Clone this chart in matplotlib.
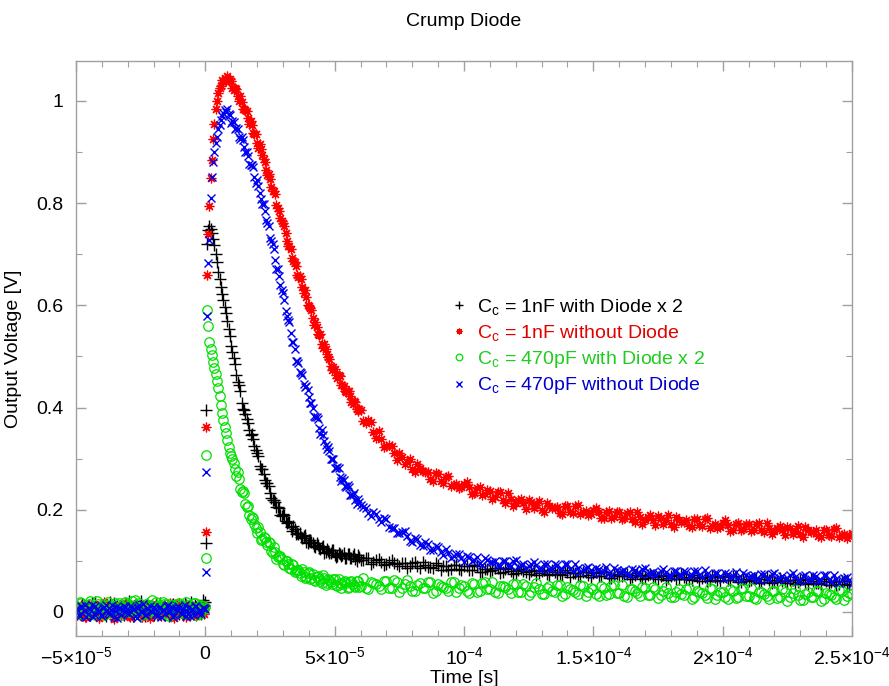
import numpy as np
import matplotlib
matplotlib.use("Agg")
import matplotlib.pyplot as plt
from matplotlib.lines import Line2D
from matplotlib.ticker import FixedLocator, FixedFormatter, MultipleLocator

plt.rcParams['font.family'] = ['Liberation Sans', 'DejaVu Sans']
plt.rcParams['mathtext.fontset'] = 'custom'
plt.rcParams['mathtext.rm'] = 'Liberation Sans'
plt.rcParams['mathtext.it'] = 'Liberation Sans:italic'
plt.rcParams['mathtext.bf'] = 'Liberation Sans:bold'

# ---- sample times (microseconds) ----
t_pre = np.arange(-50.0, 0.0, 1.0)
t_pre2 = np.arange(-49.5, 0.0, 1.0)
t_rise = np.array([0.0, 0.2, 0.4, 0.7, 1.0, 1.5, 2.0, 2.5, 3.0, 3.5, 4.0,
                   4.5, 5.0, 5.5, 6.0, 6.5, 7.0, 7.5, 8.0, 8.5, 9.0, 9.5])
t_mid = np.arange(10.0, 60.0, 1.0)
t_mid2 = np.arange(10.5, 60.0, 1.0)
t_tail = np.arange(60.0, 251.0, 2.0)
t_tail2 = np.arange(61.0, 250.0, 2.0)

# ---- Cc = 1nF with diode (x2) ----
black_pre = [0.010, 0.002, -0.005, 0.014, 0.006, -0.003, 0.018, 0.001, 0.009, -0.007,
             0.004, 0.012, -0.001, 0.020, 0.003, -0.006, 0.011, 0.007, -0.002, 0.015,
             0.000, 0.009, -0.008, 0.013, 0.005, 0.022, -0.004, 0.008, 0.002, 0.011,
             -0.005, 0.016, 0.004, -0.001, 0.010, 0.006, -0.007, 0.014, 0.003, 0.009,
             -0.003, 0.012, 0.018, 0.001, -0.006, 0.008, 0.013, -0.002, 0.006, 0.024]
black_pre2 = [0.006, -0.004, 0.015, 0.002, 0.011, -0.006, 0.008, 0.019, -0.002, 0.005,
              0.013, -0.008, 0.009, 0.003, 0.017, -0.001, 0.007, 0.012, -0.005, 0.010,
              0.021, 0.001, -0.004, 0.014, 0.006, 0.009, -0.007, 0.016, 0.002, 0.011,
              0.004, -0.003, 0.018, 0.008, -0.006, 0.012, 0.001, 0.015, -0.002, 0.007,
              0.010, -0.005, 0.013, 0.003, 0.020, -0.001, 0.009, 0.005, -0.004, 0.014]
black_rise = [0.020, 0.135, 0.395, 0.720, 0.748, 0.755, 0.750, 0.742, 0.730, 0.718,
              0.700, 0.684, 0.666, 0.652, 0.636, 0.622, 0.610, 0.596, 0.585, 0.570,
              0.553, 0.540]
black_mid = [0.520, 0.496, 0.464, 0.444, 0.408, 0.396, 0.377, 0.356, 0.348, 0.325,
             0.311, 0.286, 0.279, 0.258, 0.253, 0.232, 0.219, 0.215, 0.205, 0.190,
             0.191, 0.178, 0.177, 0.166, 0.168, 0.152, 0.153, 0.146, 0.149, 0.136,
             0.141, 0.136, 0.129, 0.135, 0.126, 0.127, 0.116, 0.123, 0.115, 0.122,
             0.112, 0.109, 0.114, 0.112, 0.105, 0.113, 0.106, 0.110, 0.104, 0.111]
black_mid2 = [0.509, 0.485, 0.450, 0.433, 0.398, 0.388, 0.369, 0.347, 0.338, 0.316,
              0.306, 0.280, 0.270, 0.252, 0.247, 0.223, 0.220, 0.206, 0.204, 0.187,
              0.189, 0.175, 0.177, 0.159, 0.162, 0.154, 0.154, 0.144, 0.150, 0.135,
              0.140, 0.135, 0.127, 0.132, 0.124, 0.129, 0.117, 0.120, 0.115, 0.121,
              0.108, 0.115, 0.109, 0.115, 0.106, 0.114, 0.106, 0.113, 0.100, 0.107]
black_tail = [0.102, 0.106, 0.094, 0.101, 0.098, 0.093, 0.101, 0.094, 0.096, 0.087,
              0.095, 0.089, 0.097, 0.088, 0.086, 0.091, 0.090, 0.083, 0.091, 0.085,
              0.089, 0.083, 0.091, 0.079, 0.085, 0.081, 0.087, 0.076, 0.084, 0.081,
              0.077, 0.085, 0.079, 0.081, 0.073, 0.081, 0.075, 0.083, 0.075, 0.072,
              0.078, 0.076, 0.070, 0.078, 0.072, 0.076, 0.071, 0.079, 0.067, 0.073,
              0.070, 0.075, 0.065, 0.073, 0.070, 0.066, 0.075, 0.068, 0.071, 0.063,
              0.071, 0.065, 0.074, 0.065, 0.063, 0.069, 0.067, 0.061, 0.070, 0.063,
              0.068, 0.063, 0.070, 0.059, 0.065, 0.061, 0.067, 0.057, 0.064, 0.062,
              0.058, 0.066, 0.060, 0.063, 0.054, 0.063, 0.057, 0.065, 0.057, 0.055,
              0.060, 0.059, 0.053, 0.061, 0.055, 0.060]
black_tail2 = [0.102, 0.105, 0.097, 0.104, 0.091, 0.098, 0.095, 0.089, 0.096, 0.090,
               0.097, 0.087, 0.091, 0.088, 0.095, 0.083, 0.090, 0.084, 0.091, 0.082,
               0.090, 0.083, 0.090, 0.078, 0.085, 0.082, 0.086, 0.079, 0.087, 0.075,
               0.082, 0.080, 0.074, 0.082, 0.076, 0.083, 0.073, 0.078, 0.074, 0.082,
               0.069, 0.077, 0.071, 0.078, 0.069, 0.078, 0.071, 0.078, 0.066, 0.074,
               0.070, 0.075, 0.068, 0.076, 0.064, 0.072, 0.069, 0.064, 0.072, 0.066,
               0.073, 0.064, 0.068, 0.065, 0.073, 0.060, 0.068, 0.063, 0.069, 0.061,
               0.070, 0.062, 0.070, 0.058, 0.065, 0.062, 0.067, 0.059, 0.068, 0.056,
               0.063, 0.061, 0.056, 0.063, 0.058, 0.065, 0.055, 0.060, 0.057, 0.064,
               0.052, 0.060, 0.054, 0.061, 0.053]

# ---- Cc = 1nF without diode ----
red_pre = [0.008, -0.004, 0.013, 0.002, -0.009, 0.016, 0.005, -0.002, 0.011, -0.012,
           0.007, 0.019, -0.003, 0.004, 0.010, -0.007, 0.001, 0.014, -0.005, 0.008,
           0.003, -0.010, 0.012, 0.006, -0.001, 0.009, -0.006, 0.015, 0.002, -0.004,
           0.011, 0.000, 0.007, -0.008, 0.013, 0.004, -0.002, 0.010, -0.011, 0.006,
           0.017, -0.003, 0.005, 0.009, -0.006, 0.012, 0.001, -0.004, 0.008, 0.003]
red_pre2 = [-0.006, 0.010, 0.003, -0.010, 0.014, 0.001, 0.007, -0.004, 0.012, -0.008,
            0.005, 0.016, -0.002, 0.009, -0.013, 0.004, 0.011, -0.005, 0.002, 0.018,
            -0.007, 0.008, 0.013, -0.001, 0.006, -0.009, 0.010, 0.003, -0.012, 0.015,
            0.000, 0.009, -0.006, 0.012, 0.004, -0.003, 0.017, -0.008, 0.006, 0.011,
            -0.002, 0.008, -0.010, 0.014, 0.002, 0.005, -0.007, 0.012, 0.001, -0.004]
red_rise = [0.012, 0.157, 0.362, 0.660, 0.740, 0.795, 0.850, 0.885, 0.925, 0.955,
            0.985, 1.000, 1.015, 1.025, 1.030, 1.040, 1.036, 1.045, 1.041, 1.048,
            1.039, 1.043]
red_mid = [1.039, 1.022, 1.023, 1.000, 0.997, 0.984, 0.980, 0.954, 0.952, 0.936,
           0.918, 0.916, 0.895, 0.881, 0.855, 0.848, 0.823, 0.818, 0.790, 0.770,
           0.761, 0.742, 0.717, 0.711, 0.686, 0.676, 0.655, 0.651, 0.624, 0.616,
           0.598, 0.590, 0.562, 0.558, 0.542, 0.525, 0.524, 0.505, 0.495, 0.474,
           0.475, 0.458, 0.462, 0.444, 0.433, 0.432, 0.422, 0.407, 0.410, 0.394]
red_mid2 = [1.025, 1.026, 1.009, 1.009, 0.984, 0.983, 0.967, 0.960, 0.938, 0.936,
            0.908, 0.905, 0.887, 0.864, 0.857, 0.832, 0.824, 0.796, 0.784, 0.764,
            0.756, 0.725, 0.717, 0.693, 0.685, 0.660, 0.657, 0.635, 0.630, 0.600,
            0.595, 0.576, 0.567, 0.544, 0.543, 0.516, 0.514, 0.499, 0.481, 0.480,
            0.463, 0.464, 0.445, 0.443, 0.431, 0.432, 0.410, 0.412, 0.397, 0.398]
red_tail = [0.395, 0.370, 0.371, 0.341, 0.339, 0.324, 0.324, 0.297, 0.304, 0.293,
            0.280, 0.289, 0.275, 0.274, 0.257, 0.269, 0.253, 0.266, 0.249, 0.242,
            0.250, 0.244, 0.232, 0.244, 0.230, 0.237, 0.224, 0.235, 0.214, 0.221,
            0.214, 0.222, 0.202, 0.215, 0.209, 0.200, 0.214, 0.203, 0.206, 0.192,
            0.207, 0.194, 0.210, 0.195, 0.189, 0.199, 0.195, 0.184, 0.198, 0.186,
            0.195, 0.183, 0.196, 0.177, 0.185, 0.180, 0.189, 0.170, 0.184, 0.179,
            0.172, 0.186, 0.176, 0.179, 0.166, 0.181, 0.168, 0.184, 0.169, 0.164,
            0.174, 0.170, 0.161, 0.175, 0.163, 0.172, 0.161, 0.174, 0.156, 0.164,
            0.159, 0.168, 0.150, 0.164, 0.159, 0.152, 0.166, 0.156, 0.160, 0.146,
            0.161, 0.148, 0.165, 0.150, 0.145, 0.155]
red_tail2 = [0.374, 0.375, 0.352, 0.354, 0.322, 0.326, 0.311, 0.311, 0.290, 0.300,
             0.273, 0.281, 0.273, 0.261, 0.271, 0.257, 0.265, 0.246, 0.251, 0.244,
             0.254, 0.231, 0.242, 0.229, 0.239, 0.222, 0.234, 0.220, 0.232, 0.208,
             0.220, 0.213, 0.219, 0.204, 0.218, 0.195, 0.208, 0.203, 0.194, 0.207,
             0.196, 0.207, 0.191, 0.198, 0.192, 0.204, 0.183, 0.195, 0.184, 0.196,
             0.181, 0.194, 0.182, 0.195, 0.173, 0.186, 0.180, 0.187, 0.173, 0.189,
             0.167, 0.180, 0.176, 0.168, 0.181, 0.170, 0.181, 0.165, 0.172, 0.167,
             0.180, 0.159, 0.172, 0.161, 0.173, 0.158, 0.172, 0.161, 0.174, 0.152,
             0.165, 0.160, 0.167, 0.153, 0.169, 0.147, 0.160, 0.157, 0.148, 0.161,
             0.150, 0.162, 0.146, 0.153, 0.148]

# ---- Cc = 470pF with diode (x2) ----
green_pre = [0.012, 0.003, 0.018, -0.004, 0.009, 0.015, -0.002, 0.006, 0.021, 0.000,
             0.011, -0.006, 0.014, 0.007, 0.002, 0.017, -0.003, 0.010, 0.005, 0.019,
             -0.001, 0.013, 0.008, 0.024, 0.004, -0.005, 0.012, 0.016, 0.001, 0.009,
             0.006, 0.020, -0.002, 0.011, 0.015, 0.003, -0.007, 0.013, 0.008, 0.002,
             0.017, 0.005, -0.003, 0.014, 0.010, 0.001, 0.018, 0.007, -0.004, 0.012]
green_pre2 = [0.008, 0.019, -0.003, 0.013, 0.004, 0.022, 0.010, -0.005, 0.016, 0.007,
              0.001, 0.014, 0.020, -0.002, 0.011, 0.005, 0.017, -0.006, 0.009, 0.015,
              0.003, 0.021, 0.012, -0.001, 0.018, 0.006, 0.010, -0.004, 0.014, 0.023,
              0.002, 0.012, 0.008, 0.019, -0.003, 0.015, 0.009, 0.004, 0.016, -0.002,
              0.013, 0.007, 0.020, 0.001, 0.011, 0.017, -0.005, 0.010, 0.014, 0.006]
green_rise = [0.010, 0.106, 0.307, 0.590, 0.560, 0.528, 0.515, 0.502, 0.490, 0.478,
              0.466, 0.452, 0.438, 0.422, 0.405, 0.390, 0.376, 0.362, 0.350, 0.336,
              0.323, 0.312]
green_mid = [0.305, 0.291, 0.266, 0.260, 0.235, 0.232, 0.206, 0.189, 0.185, 0.172,
             0.155, 0.157, 0.142, 0.144, 0.131, 0.135, 0.116, 0.117, 0.108, 0.110,
             0.093, 0.100, 0.093, 0.084, 0.091, 0.081, 0.082, 0.070, 0.079, 0.069,
             0.079, 0.067, 0.062, 0.068, 0.064, 0.056, 0.066, 0.057, 0.063, 0.055,
             0.064, 0.051, 0.057, 0.054, 0.061, 0.047, 0.058, 0.055, 0.049, 0.060]
green_mid2 = [0.299, 0.279, 0.273, 0.240, 0.236, 0.211, 0.207, 0.182, 0.184, 0.164,
              0.167, 0.141, 0.147, 0.136, 0.137, 0.120, 0.127, 0.103, 0.110, 0.103,
              0.092, 0.100, 0.087, 0.094, 0.078, 0.082, 0.077, 0.084, 0.066, 0.076,
              0.065, 0.074, 0.060, 0.071, 0.061, 0.072, 0.053, 0.064, 0.058, 0.064,
              0.052, 0.065, 0.046, 0.058, 0.056, 0.048, 0.060, 0.051, 0.061, 0.048]
green_tail = [0.051, 0.046, 0.058, 0.055, 0.044, 0.060, 0.047, 0.058, 0.046, 0.062,
              0.042, 0.052, 0.047, 0.058, 0.038, 0.054, 0.049, 0.041, 0.058, 0.047,
              0.051, 0.037, 0.054, 0.041, 0.059, 0.044, 0.039, 0.051, 0.048, 0.037,
              0.054, 0.040, 0.051, 0.040, 0.056, 0.035, 0.046, 0.041, 0.052, 0.031,
              0.048, 0.043, 0.035, 0.051, 0.040, 0.045, 0.031, 0.047, 0.035, 0.053,
              0.038, 0.032, 0.045, 0.042, 0.031, 0.047, 0.034, 0.045, 0.034, 0.049,
              0.029, 0.040, 0.035, 0.045, 0.025, 0.042, 0.037, 0.028, 0.045, 0.034,
              0.039, 0.025, 0.041, 0.029, 0.047, 0.032, 0.027, 0.040, 0.036, 0.025,
              0.042, 0.029, 0.040, 0.029, 0.045, 0.024, 0.035, 0.030, 0.041, 0.021,
              0.038, 0.033, 0.025, 0.042, 0.031, 0.036]
green_tail2 = [0.066, 0.044, 0.057, 0.051, 0.061, 0.046, 0.062, 0.040, 0.054, 0.051,
               0.042, 0.056, 0.046, 0.059, 0.042, 0.051, 0.046, 0.059, 0.039, 0.053,
               0.042, 0.056, 0.040, 0.056, 0.044, 0.059, 0.037, 0.050, 0.044, 0.054,
               0.040, 0.055, 0.033, 0.048, 0.045, 0.035, 0.050, 0.040, 0.053, 0.035,
               0.045, 0.040, 0.053, 0.032, 0.046, 0.036, 0.050, 0.033, 0.050, 0.038,
               0.053, 0.030, 0.044, 0.038, 0.048, 0.033, 0.049, 0.027, 0.042, 0.038,
               0.029, 0.044, 0.034, 0.046, 0.029, 0.039, 0.034, 0.046, 0.026, 0.040,
               0.030, 0.044, 0.027, 0.044, 0.032, 0.047, 0.025, 0.039, 0.032, 0.042,
               0.028, 0.044, 0.022, 0.037, 0.034, 0.024, 0.039, 0.029, 0.042, 0.025,
               0.035, 0.030, 0.043, 0.023, 0.037]

# ---- Cc = 470pF without diode ----
blue_pre = [0.005, -0.006, 0.011, 0.002, -0.009, 0.008, 0.014, -0.003, 0.006, 0.000,
            -0.008, 0.010, 0.004, -0.004, 0.013, 0.001, -0.011, 0.007, 0.003, 0.009,
            -0.002, 0.012, 0.005, -0.007, 0.008, 0.000, 0.015, -0.005, 0.006, 0.002,
            0.010, -0.003, 0.007, -0.010, 0.004, 0.012, -0.001, 0.009, -0.006, 0.003,
            0.008, -0.004, 0.013, 0.001, -0.008, 0.006, 0.011, -0.002, 0.004, 0.007]
blue_pre2 = [0.003, -0.007, 0.009, 0.013, -0.004, 0.006, -0.010, 0.011, 0.001, -0.005,
             0.008, 0.014, -0.002, 0.004, -0.009, 0.010, 0.007, -0.006, 0.012, 0.000,
             -0.003, 0.009, 0.005, -0.011, 0.013, 0.002, -0.006, 0.008, 0.011, -0.001,
             0.006, -0.008, 0.010, 0.003, -0.004, 0.014, 0.001, -0.009, 0.007, 0.012,
             -0.002, 0.005, -0.007, 0.009, 0.004, -0.005, 0.011, 0.002, -0.003, 0.008]
blue_rise = [0.006, 0.079, 0.274, 0.580, 0.683, 0.728, 0.810, 0.851, 0.880, 0.900,
             0.918, 0.930, 0.945, 0.952, 0.962, 0.970, 0.976, 0.983, 0.978, 0.985,
             0.975, 0.972]
blue_mid = [0.957, 0.959, 0.946, 0.930, 0.929, 0.910, 0.899, 0.877, 0.874, 0.851,
            0.846, 0.819, 0.798, 0.785, 0.761, 0.732, 0.720, 0.688, 0.671, 0.640,
            0.625, 0.588, 0.572, 0.546, 0.529, 0.492, 0.487, 0.468, 0.447, 0.442,
            0.420, 0.408, 0.384, 0.381, 0.359, 0.357, 0.334, 0.318, 0.314, 0.300,
            0.282, 0.283, 0.265, 0.263, 0.247, 0.249, 0.229, 0.229, 0.220, 0.221]
blue_mid2 = [0.961, 0.945, 0.945, 0.926, 0.923, 0.899, 0.892, 0.875, 0.870, 0.840,
             0.833, 0.808, 0.798, 0.766, 0.755, 0.725, 0.711, 0.672, 0.658, 0.630,
             0.611, 0.579, 0.567, 0.528, 0.514, 0.492, 0.470, 0.464, 0.441, 0.435,
             0.409, 0.400, 0.382, 0.377, 0.349, 0.346, 0.326, 0.322, 0.300, 0.300,
             0.281, 0.281, 0.257, 0.258, 0.245, 0.244, 0.228, 0.232, 0.211, 0.215]
blue_tail = [0.209, 0.204, 0.188, 0.192, 0.177, 0.182, 0.165, 0.155, 0.157, 0.149,
             0.137, 0.143, 0.130, 0.133, 0.122, 0.128, 0.112, 0.115, 0.109, 0.113,
             0.098, 0.107, 0.102, 0.095, 0.105, 0.097, 0.099, 0.089, 0.099, 0.090,
             0.101, 0.091, 0.087, 0.094, 0.092, 0.084, 0.094, 0.085, 0.092, 0.084,
             0.093, 0.080, 0.086, 0.082, 0.088, 0.074, 0.085, 0.081, 0.076, 0.087,
             0.079, 0.082, 0.073, 0.083, 0.075, 0.087, 0.076, 0.073, 0.081, 0.078,
             0.071, 0.081, 0.073, 0.079, 0.072, 0.081, 0.068, 0.074, 0.071, 0.077,
             0.064, 0.075, 0.071, 0.066, 0.077, 0.069, 0.072, 0.063, 0.074, 0.065,
             0.077, 0.067, 0.064, 0.072, 0.069, 0.062, 0.072, 0.064, 0.070, 0.063,
             0.072, 0.059, 0.065, 0.062, 0.068, 0.055]
blue_tail2 = [0.206, 0.193, 0.196, 0.182, 0.184, 0.166, 0.165, 0.155, 0.158, 0.139,
              0.144, 0.132, 0.136, 0.122, 0.129, 0.118, 0.124, 0.106, 0.113, 0.106,
              0.110, 0.099, 0.108, 0.092, 0.101, 0.098, 0.091, 0.100, 0.092, 0.100,
              0.088, 0.094, 0.090, 0.098, 0.084, 0.093, 0.085, 0.093, 0.083, 0.093,
              0.084, 0.094, 0.078, 0.087, 0.082, 0.087, 0.078, 0.088, 0.073, 0.083,
              0.080, 0.074, 0.084, 0.076, 0.085, 0.074, 0.079, 0.076, 0.085, 0.070,
              0.080, 0.072, 0.081, 0.070, 0.081, 0.072, 0.082, 0.066, 0.076, 0.071,
              0.077, 0.068, 0.078, 0.063, 0.073, 0.070, 0.064, 0.074, 0.067, 0.075,
              0.064, 0.070, 0.067, 0.076, 0.061, 0.071, 0.063, 0.072, 0.061, 0.072,
              0.063, 0.073, 0.057, 0.067, 0.062]

labels = [r'C$_\mathregular{c}$ = 1nF with Diode x 2',
          r'C$_\mathregular{c}$ = 1nF without Diode',
          r'C$_\mathregular{c}$ = 470pF with Diode x 2',
          r'C$_\mathregular{c}$ = 470pF without Diode']
colors = ['#000000', '#ff0000', '#00e000', '#0000f0']
text_colors = ['#000000', '#e00000', '#20cc20', '#0000d0']

x_ticks = [-5e-5, 0.0, 5e-5, 1e-4, 1.5e-4, 2e-4, 2.5e-4]
x_ticklabels = [r'$\mathregular{-5{\times}10^{-5}}$', r'$\mathregular{0}$',
                r'$\mathregular{5{\times}10^{-5}}$', r'$\mathregular{10^{-4}}$',
                r'$\mathregular{1.5{\times}10^{-4}}$', r'$\mathregular{2{\times}10^{-4}}$',
                r'$\mathregular{2.5{\times}10^{-4}}$']
y_ticks = [0.0, 0.2, 0.4, 0.6, 0.8, 1.0]
y_ticklabels = ['0', '0.2', '0.4', '0.6', '0.8', '1']

t_all = np.concatenate([t_pre, t_pre2, t_rise, t_mid, t_mid2, t_tail, t_tail2]) * 1e-6
series = [
    np.concatenate([black_pre, black_pre2, black_rise, black_mid, black_mid2,
                    black_tail, black_tail2]),
    np.concatenate([red_pre, red_pre2, red_rise, red_mid, red_mid2,
                    red_tail, red_tail2]),
    np.concatenate([green_pre, green_pre2, green_rise, green_mid, green_mid2,
                    green_tail, green_tail2]),
    np.concatenate([blue_pre, blue_pre2, blue_rise, blue_mid, blue_mid2,
                    blue_tail, blue_tail2]),
]
marker_styles = [
    dict(marker='+', ms=8.0, mew=1.0),
    dict(marker=(8, 2, 0), ms=7.0, mew=0.9),
    dict(marker='o', ms=6.8, mew=0.9, mfc='none'),
    dict(marker='x', ms=6.2, mew=1.0),
]
legend_scale = [0.65, 0.6, 0.7, 0.7]

fig = plt.figure(figsize=(8.89, 6.86), dpi=100)
ax = fig.add_axes([76 / 889, 1 - 636 / 686, (852 - 76) / 889, (636 - 61) / 686])

handles = []
for y, c, ms, k in zip(series, colors, marker_styles, legend_scale):
    ax.plot(t_all, y, linestyle='none', color=c, **ms)
    handles.append(Line2D([], [], linestyle='none', color=c,
                          **{**ms, 'ms': ms['ms'] * k}))

ax.set_xlim(-5e-5, 2.5e-4)
ax.set_ylim(-0.047, 1.078)

ax.xaxis.set_major_locator(FixedLocator(x_ticks))
ax.xaxis.set_major_formatter(FixedFormatter(x_ticklabels))
ax.xaxis.set_minor_locator(MultipleLocator(1e-5))
ax.yaxis.set_major_locator(FixedLocator(y_ticks))
ax.yaxis.set_major_formatter(FixedFormatter(y_ticklabels))
ax.yaxis.set_minor_locator(MultipleLocator(0.1))

axis_grey = '#a0a0a0'
for s in ax.spines.values():
    s.set_color(axis_grey)
    s.set_linewidth(1.0)
ax.tick_params(which='both', direction='in', top=True, right=True,
               color=axis_grey, labelsize=14, labelcolor='#000000')
ax.tick_params(which='major', length=7, width=1.0)
ax.tick_params(which='minor', length=4, width=0.8)
ax.tick_params(axis='x', pad=7)
ax.tick_params(axis='y', pad=9)

ax.set_xlabel('Time [s]', fontsize=14, labelpad=2)
ax.set_ylabel('Output Voltage [V]', fontsize=14, labelpad=10)
fig.text(0.522, 0.968, 'Crump Diode', fontsize=14, ha='center', va='center')

leg = ax.legend(handles, labels, loc='upper left',
                bbox_to_anchor=(452 / 889, 1 - 297 / 686),
                bbox_transform=fig.transFigure, frameon=False, fontsize=14,
                numpoints=1, handlelength=0.7, handletextpad=0.6,
                labelspacing=0.3, borderpad=0.0, borderaxespad=0.0)
for txt, tc in zip(leg.get_texts(), text_colors):
    txt.set_color(tc)

fig.savefig('out.png', dpi=100)
